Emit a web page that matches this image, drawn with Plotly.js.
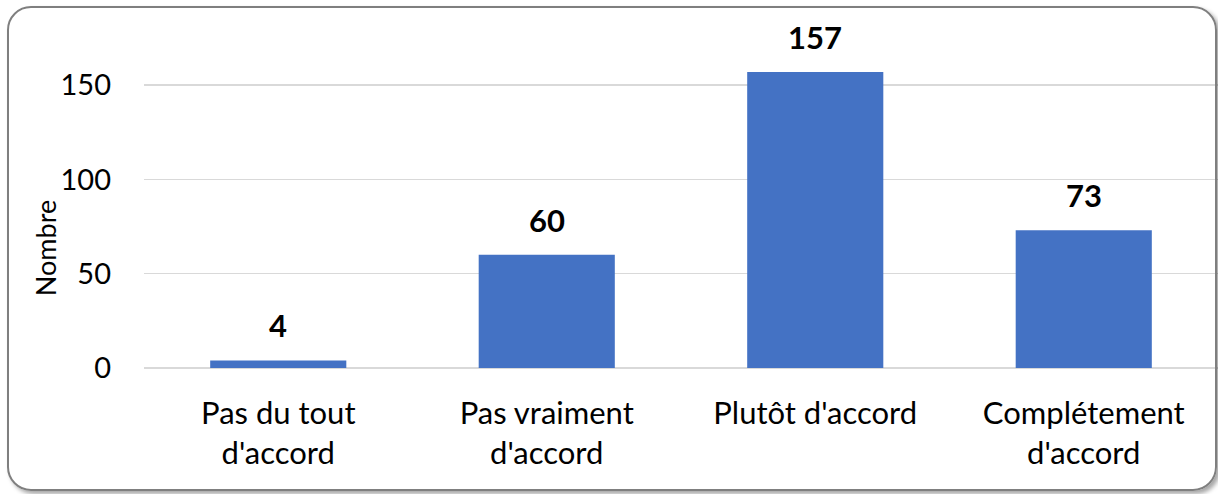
<!DOCTYPE html>
<html>
<head>
<meta charset="utf-8">
<script src="https://cdn.plot.ly/plotly-3.0.1.min.js"></script>
<style>
  html, body { margin: 0; padding: 0; background: #ffffff; }
  #wrap { position: relative; width: 1218px; height: 494px; }
  #chart { width: 1218px; height: 494px; }
  #frame {
    position: absolute; left: 7px; top: 6px; width: 1206px; height: 481px;
    border: 2px solid #7f7f7f; border-radius: 24px;
    box-shadow: 3px 3px 4px rgba(0,0,0,0.35);
    pointer-events: none;
  }
</style>
</head>
<body>
<div id="wrap">
  <div id="chart"></div>
  <div id="frame"></div>
</div>
<script>
const categories = ["Pas du tout<br>d'accord", "Pas vraiment<br>d'accord", "Plutôt d'accord", "Complétement<br>d'accord"];
const values = [4, 60, 157, 73];
const yTicks = [0, 50, 100, 150];
const yTitle = "Nombre";

const FONT = "Lato, 'Noto Sans', sans-serif";

const trace = {
  type: 'bar',
  x: categories,
  y: values,
  marker: { color: '#4472C4', line: { width: 0 } },
  width: 0.507,
  hoverinfo: 'x+y'
};

const annotations = categories.map((c, i) => ({
  x: c, y: values[i], xref: 'x', yref: 'y',
  text: '<b>' + values[i] + '</b>',
  showarrow: false, yanchor: 'bottom', yshift: 14,
  font: { family: FONT, size: 31, color: '#000000' }
}));

annotations.push({
  xref: 'paper', yref: 'paper', x: -0.091, y: 0.364,
  xanchor: 'center', yanchor: 'middle',
  text: yTitle, textangle: -90, showarrow: false,
  font: { family: FONT, size: 27, color: '#000000' }
});

const layout = {
  width: 1218, height: 494,
  margin: { l: 144, r: 0, t: 38, b: 126 },
  paper_bgcolor: '#ffffff', plot_bgcolor: '#ffffff',
  showlegend: false,
  xaxis: {
    type: 'category',
    showgrid: false, zeroline: false, showline: false,
    ticks: '', ticklabelstandoff: 24,
    tickfont: { family: FONT, size: 31, color: '#000000' }
  },
  yaxis: {
    range: [0, 175],
    tickvals: yTicks,
    showgrid: true, gridcolor: '#d9d9d9', gridwidth: 1.5,
    zeroline: true, zerolinecolor: '#d9d9d9', zerolinewidth: 1.5,
    showline: false, ticks: '', ticklabelstandoff: 32,
    tickfont: { family: FONT, size: 29, color: '#000000' }
  },
  annotations: annotations
};

Plotly.newPlot('chart', [trace], layout, { displayModeBar: false, staticPlot: true });
</script>
</body>
</html>
